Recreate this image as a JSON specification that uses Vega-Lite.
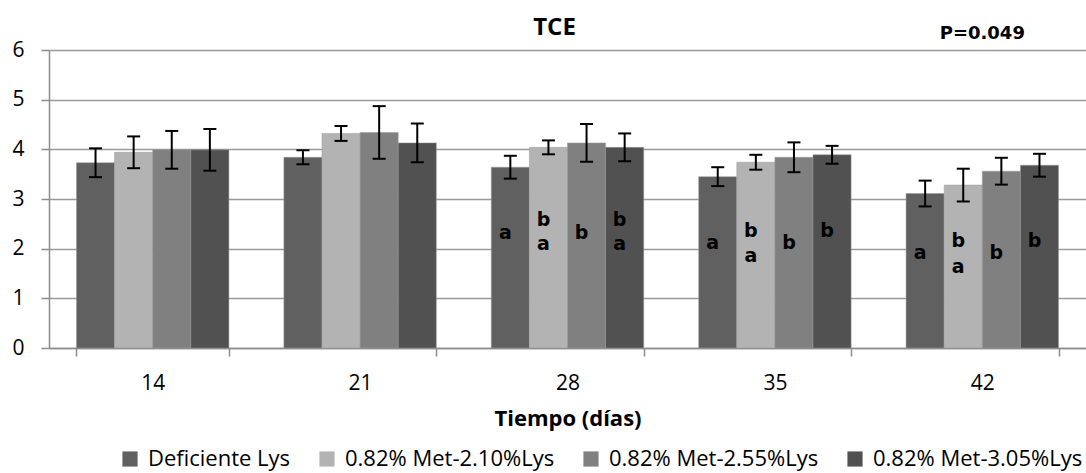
{
  "$schema": "https://vega.github.io/schema/vega-lite/v6.json",
  "width": 1037,
  "height": 298,
  "autosize": {"type": "none"},
  "padding": {"left": 49, "top": 50, "right": 0, "bottom": 125},
  "background": "white",
  "config": {
    "view": {"stroke": null},
    "axis": {"labelFont": "Open Sans", "titleFont": "Open Sans", "labelColor": "black", "titleColor": "black"}
  },
  "datasets": {
    "barras": [
      {"dia": "14", "trat": "Deficiente Lys", "tce": 3.73, "lo": 3.44, "hi": 4.02},
      {"dia": "14", "trat": "0.82% Met-2.10%Lys", "tce": 3.94, "lo": 3.62, "hi": 4.26},
      {"dia": "14", "trat": "0.82% Met-2.55%Lys", "tce": 3.99, "lo": 3.61, "hi": 4.37},
      {"dia": "14", "trat": "0.82% Met-3.05%Lys", "tce": 3.99, "lo": 3.57, "hi": 4.41},
      {"dia": "21", "trat": "Deficiente Lys", "tce": 3.84, "lo": 3.70, "hi": 3.98},
      {"dia": "21", "trat": "0.82% Met-2.10%Lys", "tce": 4.32, "lo": 4.17, "hi": 4.47},
      {"dia": "21", "trat": "0.82% Met-2.55%Lys", "tce": 4.34, "lo": 3.81, "hi": 4.87},
      {"dia": "21", "trat": "0.82% Met-3.05%Lys", "tce": 4.13, "lo": 3.74, "hi": 4.52},
      {"dia": "28", "trat": "Deficiente Lys", "tce": 3.64, "lo": 3.41, "hi": 3.87},
      {"dia": "28", "trat": "0.82% Met-2.10%Lys", "tce": 4.04, "lo": 3.90, "hi": 4.18},
      {"dia": "28", "trat": "0.82% Met-2.55%Lys", "tce": 4.13, "lo": 3.75, "hi": 4.51},
      {"dia": "28", "trat": "0.82% Met-3.05%Lys", "tce": 4.04, "lo": 3.76, "hi": 4.32},
      {"dia": "35", "trat": "Deficiente Lys", "tce": 3.45, "lo": 3.26, "hi": 3.64},
      {"dia": "35", "trat": "0.82% Met-2.10%Lys", "tce": 3.74, "lo": 3.59, "hi": 3.89},
      {"dia": "35", "trat": "0.82% Met-2.55%Lys", "tce": 3.84, "lo": 3.54, "hi": 4.14},
      {"dia": "35", "trat": "0.82% Met-3.05%Lys", "tce": 3.89, "lo": 3.71, "hi": 4.07},
      {"dia": "42", "trat": "Deficiente Lys", "tce": 3.11, "lo": 2.85, "hi": 3.37},
      {"dia": "42", "trat": "0.82% Met-2.10%Lys", "tce": 3.28, "lo": 2.95, "hi": 3.61},
      {"dia": "42", "trat": "0.82% Met-2.55%Lys", "tce": 3.56, "lo": 3.29, "hi": 3.83},
      {"dia": "42", "trat": "0.82% Met-3.05%Lys", "tce": 3.68, "lo": 3.45, "hi": 3.91}
    ],
    "letras": [
      {"dia": "28", "trat": "Deficiente Lys", "letra": "a", "nivel": 2.32},
      {"dia": "28", "trat": "0.82% Met-2.10%Lys", "letra": "b", "nivel": 2.58},
      {"dia": "28", "trat": "0.82% Met-2.10%Lys", "letra": "a", "nivel": 2.10},
      {"dia": "28", "trat": "0.82% Met-2.55%Lys", "letra": "b", "nivel": 2.32},
      {"dia": "28", "trat": "0.82% Met-3.05%Lys", "letra": "b", "nivel": 2.58},
      {"dia": "28", "trat": "0.82% Met-3.05%Lys", "letra": "a", "nivel": 2.10},
      {"dia": "35", "trat": "Deficiente Lys", "letra": "a", "nivel": 2.12},
      {"dia": "35", "trat": "0.82% Met-2.10%Lys", "letra": "b", "nivel": 2.36},
      {"dia": "35", "trat": "0.82% Met-2.10%Lys", "letra": "a", "nivel": 1.86},
      {"dia": "35", "trat": "0.82% Met-2.55%Lys", "letra": "b", "nivel": 2.12},
      {"dia": "35", "trat": "0.82% Met-3.05%Lys", "letra": "b", "nivel": 2.36},
      {"dia": "42", "trat": "Deficiente Lys", "letra": "a", "nivel": 1.92},
      {"dia": "42", "trat": "0.82% Met-2.10%Lys", "letra": "b", "nivel": 2.16},
      {"dia": "42", "trat": "0.82% Met-2.10%Lys", "letra": "a", "nivel": 1.64},
      {"dia": "42", "trat": "0.82% Met-2.55%Lys", "letra": "b", "nivel": 1.92},
      {"dia": "42", "trat": "0.82% Met-3.05%Lys", "letra": "b", "nivel": 2.16}
    ],
    "pvalor": [
      {"dia": "42", "texto": "P=0.049", "nivel": 6.33}
    ],
    "titulo": [
      {"dia": "28", "texto": "TCE", "nivel": 6.45}
    ]
  },
  "encoding": {
    "x": {
      "field": "dia",
      "type": "nominal",
      "sort": ["14", "21", "28", "35", "42"],
      "scale": {"paddingInner": 0.265, "paddingOuter": 0.1325},
      "axis": {
        "title": "Tiempo (días)",
        "titleFontSize": 22,
        "titleFontWeight": "bold",
        "titlePadding": 15,
        "labelFontSize": 21,
        "labelAngle": 0,
        "labelPadding": 16,
        "tickBand": "extent",
        "tickSize": 8,
        "tickColor": "#8c8c8c",
        "tickWidth": 1.5,
        "domainColor": "#8c8c8c",
        "domainWidth": 1.5,
        "grid": false
      }
    }
  },
  "layer": [
    {
      "data": {"name": "barras"},
      "mark": {"type": "bar", "stroke": "#9a9a9a", "strokeWidth": 0.5},
      "encoding": {
        "xOffset": {
          "field": "trat",
          "type": "nominal",
          "sort": ["Deficiente Lys", "0.82% Met-2.10%Lys", "0.82% Met-2.55%Lys", "0.82% Met-3.05%Lys"],
          "scale": {"paddingInner": 0, "paddingOuter": 0}
        },
        "y": {
          "field": "tce",
          "type": "quantitative",
          "scale": {"domain": [0, 6], "nice": false},
          "axis": {
            "title": null,
            "values": [0, 1, 2, 3, 4, 5, 6],
            "labelFontSize": 21,
            "labelPadding": 17,
            "tickSize": 8,
            "tickColor": "#8c8c8c",
            "tickWidth": 1.5,
            "domainColor": "#8c8c8c",
            "domainWidth": 1.5,
            "grid": true,
            "gridColor": "#9a9a9a",
            "gridWidth": 1.5
          }
        },
        "color": {
          "field": "trat",
          "type": "nominal",
          "sort": ["Deficiente Lys", "0.82% Met-2.10%Lys", "0.82% Met-2.55%Lys", "0.82% Met-3.05%Lys"],
          "scale": {
            "domain": ["Deficiente Lys", "0.82% Met-2.10%Lys", "0.82% Met-2.55%Lys", "0.82% Met-3.05%Lys"],
            "range": ["#606060", "#b3b3b3", "#808080", "#515151"]
          },
          "legend": {
            "title": null,
            "orient": "none",
            "direction": "horizontal",
            "legendX": 70,
            "legendY": 398,
            "symbolType": "square",
            "symbolSize": 230,
            "symbolStrokeWidth": 0,
            "labelFont": "Open Sans",
            "labelFontSize": 22,
            "labelColor": "black",
            "labelOffset": 7,
            "labelLimit": 0,
            "columnPadding": 25
          }
        }
      }
    },
    {
      "data": {"name": "barras"},
      "mark": {"type": "rule", "color": "black", "strokeWidth": 2},
      "encoding": {
        "xOffset": {"field": "trat", "type": "nominal", "sort": ["Deficiente Lys", "0.82% Met-2.10%Lys", "0.82% Met-2.55%Lys", "0.82% Met-3.05%Lys"]},
        "y": {"field": "lo", "type": "quantitative"},
        "y2": {"field": "hi"}
      }
    },
    {
      "data": {"name": "barras"},
      "mark": {"type": "tick", "color": "black", "thickness": 2, "size": 13, "opacity": 1},
      "encoding": {
        "xOffset": {"field": "trat", "type": "nominal", "sort": ["Deficiente Lys", "0.82% Met-2.10%Lys", "0.82% Met-2.55%Lys", "0.82% Met-3.05%Lys"]},
        "y": {"field": "lo", "type": "quantitative"}
      }
    },
    {
      "data": {"name": "barras"},
      "mark": {"type": "tick", "color": "black", "thickness": 2, "size": 13, "opacity": 1},
      "encoding": {
        "xOffset": {"field": "trat", "type": "nominal", "sort": ["Deficiente Lys", "0.82% Met-2.10%Lys", "0.82% Met-2.55%Lys", "0.82% Met-3.05%Lys"]},
        "y": {"field": "hi", "type": "quantitative"}
      }
    },
    {
      "data": {"name": "letras"},
      "mark": {"type": "text", "font": "DejaVu Sans", "fontSize": 19, "fontWeight": "bold", "color": "black", "baseline": "middle", "align": "center", "dx": -5},
      "encoding": {
        "xOffset": {"field": "trat", "type": "nominal", "sort": ["Deficiente Lys", "0.82% Met-2.10%Lys", "0.82% Met-2.55%Lys", "0.82% Met-3.05%Lys"]},
        "y": {"field": "nivel", "type": "quantitative"},
        "text": {"field": "letra"}
      }
    },
    {
      "data": {"name": "pvalor"},
      "mark": {"type": "text", "font": "DejaVu Sans", "fontSize": 18, "fontWeight": "bold", "color": "black", "baseline": "middle", "align": "center", "clip": false},
      "encoding": {
        "y": {"field": "nivel", "type": "quantitative"},
        "text": {"field": "texto"}
      }
    },
    {
      "data": {"name": "titulo"},
      "mark": {"type": "text", "font": "Open Sans", "fontSize": 24, "fontWeight": "bold", "color": "black", "baseline": "middle", "align": "center", "dx": -13, "clip": false},
      "encoding": {
        "y": {"field": "nivel", "type": "quantitative"},
        "text": {"field": "texto"}
      }
    }
  ]
}
